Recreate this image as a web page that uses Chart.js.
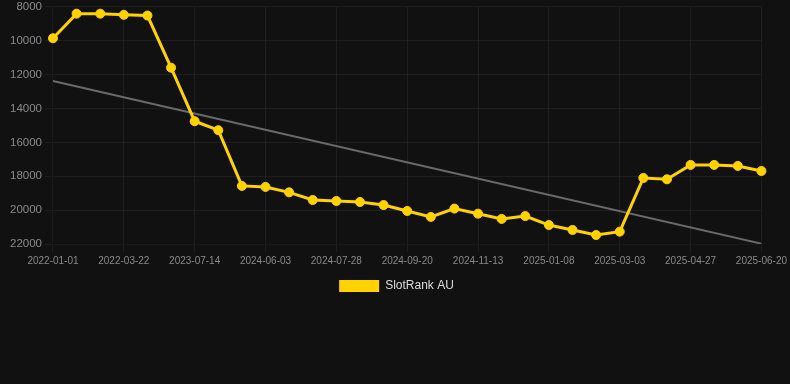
<!DOCTYPE html>
<html>
<head>
<meta charset="utf-8">
<script src="https://cdn.jsdelivr.net/npm/chart.js@4"></script>
<style>
    html, body { margin: 0; padding: 0; background: #111111; overflow: hidden; }
    #wrap { position: relative; width: 790px; height: 305px; margin-top: -3px; }
</style>
</head>
<body>
<div id="wrap"><canvas id="rankChart"></canvas></div>
<script>
// dates of each rank snapshot
const dates = [
    '2022-01-01', '2022-01-28', '2022-02-24', '2022-03-22', '2022-08-29', '2023-02-04',
    '2023-07-14', '2023-10-31', '2024-02-16', '2024-06-03', '2024-06-21', '2024-07-09',
    '2024-07-28', '2024-08-15', '2024-09-02', '2024-09-20', '2024-10-08', '2024-10-26',
    '2024-11-13', '2024-12-02', '2024-12-20', '2025-01-08', '2025-01-26', '2025-02-13',
    '2025-03-03', '2025-03-21', '2025-04-08', '2025-04-27', '2025-05-15', '2025-06-02',
    '2025-06-20'
];

// SlotRank AU position (lower is better, axis reversed)
const rankAU = [
    9850, 8400, 8400, 8470, 8510, 11590, 14750, 15280, 18570, 18630, 18950,
    19400, 19460, 19520, 19700, 20050, 20400, 19910, 20210, 20520, 20350,
    20880, 21170, 21470, 21270, 18100, 18180, 17330, 17330, 17390, 17690
];

// trend line endpoints (first and last date)
const trendStart = 12370;
const trendEnd = 21980;

const yTicks = { min: 8000, max: 22000, step: 2000 };

const gold = '#ffd200';
const trendData = dates.map((_, i) => {
    if (i === 0) return trendStart;
    if (i === dates.length - 1) return trendEnd;
    return null;
});

const ctx = document.getElementById('rankChart').getContext('2d');

new Chart(ctx, {
    type: 'line',
    data: {
        labels: dates,
        datasets: [
            {
                label: 'SlotRank AU',
                data: rankAU,
                borderColor: gold,
                backgroundColor: gold,
                borderWidth: 3,
                pointRadius: 4.5,
                pointBackgroundColor: gold,
                pointBorderColor: gold,
                pointBorderWidth: 1,
                tension: 0,
                order: 1
            },
            {
                label: 'Trend',
                data: trendData,
                borderColor: '#6a6a6a',
                backgroundColor: '#6a6a6a',
                borderWidth: 2,
                pointRadius: 0,
                spanGaps: true,
                order: 2
            }
        ]
    },
    options: {
        responsive: true,
        maintainAspectRatio: false,
        animation: false,
        layout: {
            padding: { left: 7, right: 4, top: 0, bottom: 0 }
        },
        scales: {
            x: {
                grid: { color: 'rgba(255,255,255,0.055)' },
                ticks: {
                    color: '#8a8a8a',
                    font: { family: 'Liberation Sans, Arial, sans-serif', size: 10 },
                    autoSkip: true,
                    maxTicksLimit: 11,
                    maxRotation: 0
                }
            },
            y: {
                reverse: true,
                min: yTicks.min,
                max: yTicks.max,
                grid: { color: 'rgba(255,255,255,0.055)' },
                ticks: {
                    stepSize: yTicks.step,
                    color: '#8a8a8a',
                    font: { family: 'Liberation Sans, Arial, sans-serif', size: 11.5 },
                    callback: value => String(value)
                }
            }
        },
        plugins: {
            legend: {
                position: 'bottom',
                labels: {
                    color: '#dddddd',
                    boxWidth: 40,
                    boxHeight: 12,
                    font: { family: 'Liberation Sans, Arial, sans-serif', size: 12 },
                    filter: item => {
                        item.lineWidth = 0; // plain filled box, no outline
                        return item.text === 'SlotRank AU';
                    }
                }
            },
            tooltip: { enabled: false }
        }
    }
});
</script>
</body>
</html>
